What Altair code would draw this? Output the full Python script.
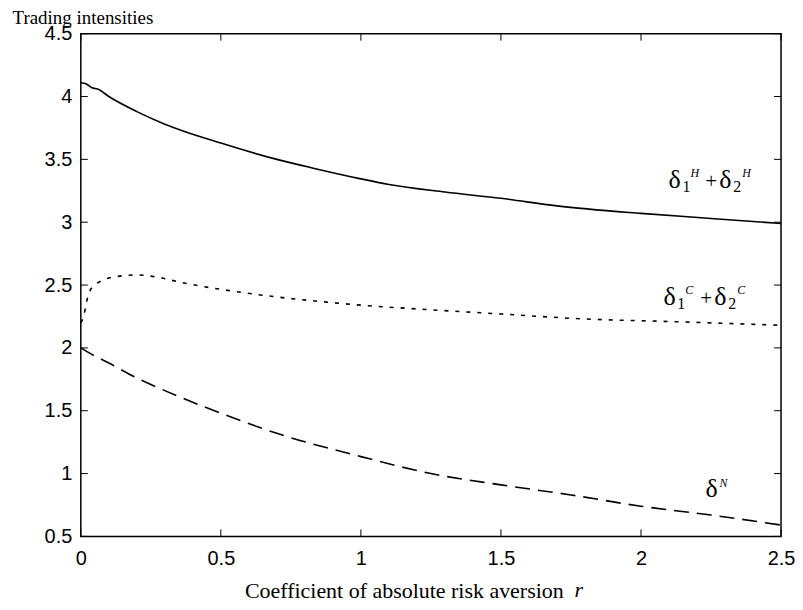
import altair as alt
import pandas as pd

# ---- data ----
r_H = [0.0, 0.02, 0.04, 0.06, 0.1, 0.2, 0.3, 0.5, 0.7, 0.83, 1.0, 1.1, 1.3, 1.5, 1.7, 2.0, 2.25, 2.5]
v_H = [4.11, 4.10, 4.07, 4.06, 4.00, 3.88, 3.78, 3.63, 3.50, 3.43, 3.345, 3.30, 3.24, 3.19, 3.13, 3.07, 3.03, 2.99]

r_C = [0.0, 0.01, 0.02, 0.03, 0.05, 0.08, 0.12, 0.2, 0.28, 0.36, 0.46, 0.58, 0.72, 0.85, 1.0, 1.2, 1.5, 1.8, 2.1, 2.5]
v_C = [2.20, 2.25, 2.36, 2.44, 2.50, 2.54, 2.565, 2.58, 2.56, 2.52, 2.48, 2.44, 2.40, 2.37, 2.34, 2.31, 2.27, 2.23, 2.21, 2.18]

r_N = [0.0, 0.03, 0.1, 0.2, 0.3, 0.5, 0.7, 1.0, 1.25, 1.5, 1.75, 2.0, 2.25, 2.5]
v_N = [2.0, 1.96, 1.88, 1.76, 1.66, 1.48, 1.32, 1.135, 1.0, 0.91, 0.83, 0.74, 0.67, 0.59]

x_ticks = [0, 0.5, 1, 1.5, 2, 2.5]
y_ticks = [0.5, 1, 1.5, 2, 2.5, 3, 3.5, 4, 4.5]

# label anchors (data coords)
lab_H = (2.098, 3.27)
lab_C = (2.08, 2.34)
lab_N = (2.23, 0.817)

W, H = 702, 504
SERIF = "Liberation Serif"
SANS = "Liberation Sans"

xscale = alt.Scale(domain=[0, 2.5], nice=False, zero=False)
yscale = alt.Scale(domain=[0.5, 4.5], nice=False, zero=False)

xaxis = alt.Axis(values=x_ticks, format="~g", domain=False, ticks=False, grid=False,
                 labelFont=SANS, labelFontSize=20, labelColor="black", labelPadding=12,
                 labelFlush=False,
                 title="Coefficient of absolute risk aversion", titleFont=SERIF, titleFontSize=22,
                 titleFontWeight="normal", titleColor="black", titleAlign="left",
                 titleX=164, titleY=61, titleBaseline="alphabetic")
yaxis = alt.Axis(values=y_ticks, format="~g", domain=False, ticks=False, grid=False,
                 labelFont=SANS, labelFontSize=20, labelColor="black", labelPadding=9,
                 labelFlush=False,
                 title="Trading intensities", titleFont=SERIF, titleFontSize=19,
                 titleFontWeight="normal", titleColor="black", titleAngle=0, titleAlign="left",
                 titleX=-69, titleY=-10, titleBaseline="alphabetic")

X = lambda f: alt.X(f, scale=xscale, axis=xaxis)
Y = lambda f: alt.Y(f, scale=yscale, axis=yaxis)


def line(rs, vs, dash=None):
    df = pd.DataFrame({"r": rs, "v": vs})
    kw = dict(color="black", strokeWidth=1.6, interpolate="monotone")
    if dash:
        kw["strokeDash"] = dash
    return alt.Chart(df).mark_line(**kw).encode(x=X("r:Q"), y=Y("v:Q"))


lines = [line(r_H, v_H), line(r_C, v_C, [4, 7]), line(r_N, v_N, [15, 8])]

xt = pd.DataFrame({"r": x_ticks})
yt = pd.DataFrame({"v": y_ticks})
TL = 7
ticks = [
    alt.Chart(xt).mark_rule(color="black", strokeWidth=1).encode(
        x=X("r:Q"), y=alt.value(H), y2=alt.value(H - TL)),
    alt.Chart(xt).mark_rule(color="black", strokeWidth=1).encode(
        x=X("r:Q"), y=alt.value(0), y2=alt.value(TL)),
    alt.Chart(yt).mark_rule(color="black", strokeWidth=1).encode(
        y=Y("v:Q"), x=alt.value(0), x2=alt.value(TL)),
    alt.Chart(yt).mark_rule(color="black", strokeWidth=1).encode(
        y=Y("v:Q"), x=alt.value(W), x2=alt.value(W - TL)),
]


def piece(anchor, text, dx, dy, size, italic=False):
    df = pd.DataFrame({"r": [anchor[0]], "v": [anchor[1]], "t": [text]})
    kw = dict(font=SERIF, fontSize=size, color="black", align="left", baseline="alphabetic",
              dx=dx, dy=dy)
    if italic:
        kw["fontStyle"] = "italic"
    return alt.Chart(df).mark_text(**kw).encode(x=X("r:Q"), y=Y("v:Q"), text="t:N")


def sum_label(anchor, sup):
    return [
        piece(anchor, "δ", 0, 0, 26),
        piece(anchor, "1", 14, 4, 16),
        piece(anchor, sup, 22, -11, 12, True),
        piece(anchor, "+", 37, 0, 21),
        piece(anchor, "δ", 51, 0, 26),
        piece(anchor, "2", 65, 4, 16),
        piece(anchor, sup, 74, -11, 12, True),
    ]


labels = sum_label(lab_H, "H") + sum_label(lab_C, "C") + [
    piece(lab_N, "δ", 0, 0, 26),
    piece(lab_N, "N", 14, -10, 12, True),
]

# italic variable name after the x-axis title
r_label = alt.Chart(pd.DataFrame({"t": ["r"]})).mark_text(
    font=SERIF, fontSize=22, fontStyle="italic", color="black", align="left", baseline="alphabetic"
).encode(x=alt.value(495), y=alt.value(H + 61), text="t:N")

chart = alt.layer(*lines, *ticks, *labels, r_label).properties(
    width=W, height=H,
    background="white",
    autosize=alt.AutoSizeParams(type="none"),
    padding={"left": 73, "top": 25, "right": 14, "bottom": 65},
).configure_view(stroke="black", strokeWidth=1.5)

chart.save("out.html", embed_options={"renderer": "svg", "actions": False})
